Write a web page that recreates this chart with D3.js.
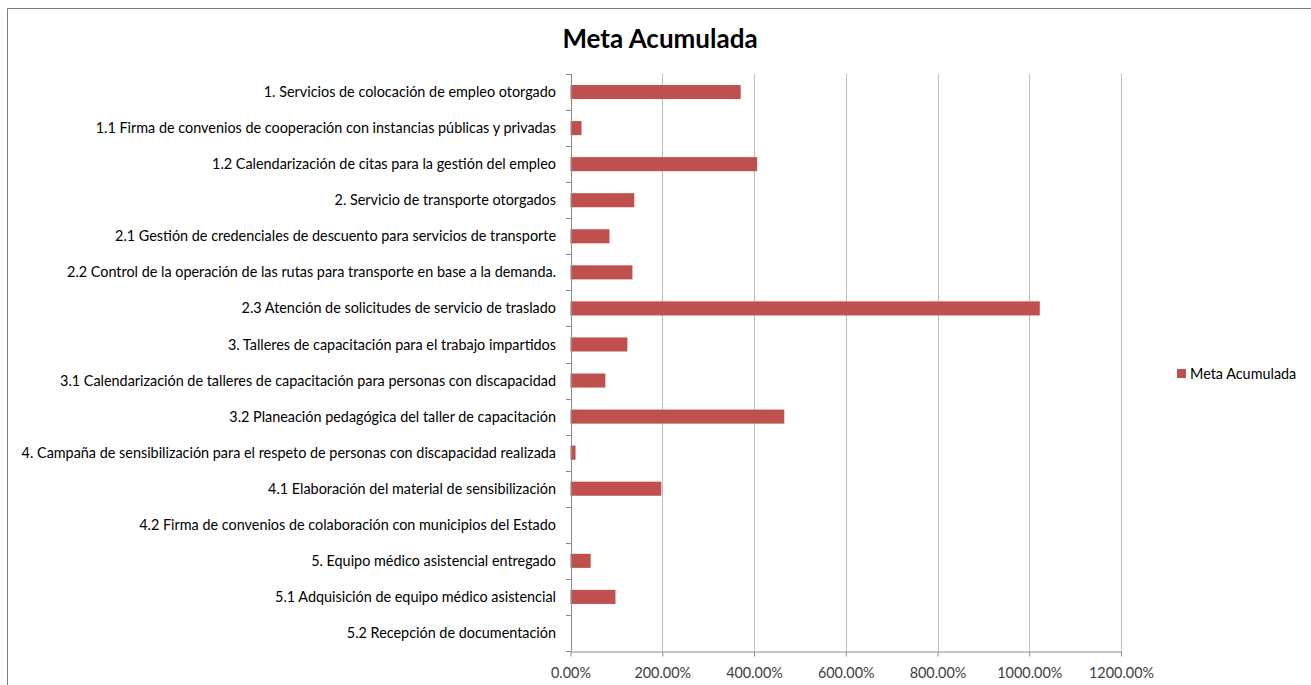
<!DOCTYPE html>
<html><head><meta charset="utf-8">
<script src="https://cdn.jsdelivr.net/npm/d3@7"></script>
<style>body{margin:0;background:#fff;} svg{display:block;}</style>
</head><body>
<svg id="c" width="1311" height="685"></svg>
<script>
const categories = [
"1. Servicios de colocación de empleo otorgado",
"1.1 Firma de convenios de cooperación con instancias públicas y privadas",
"1.2 Calendarización de citas para la gestión del empleo",
"2. Servicio de transporte otorgados",
"2.1 Gestión de credenciales de descuento para servicios de transporte",
"2.2 Control de la operación de las rutas para transporte en base a la demanda.",
"2.3 Atención de solicitudes de servicio de traslado",
"3. Talleres de capacitación para el trabajo impartidos",
"3.1 Calendarización de talleres de capacitación para personas con discapacidad",
"3.2 Planeación pedagógica del taller de capacitación",
"4. Campaña de sensibilización para el respeto de personas con discapacidad realizada",
"4.1 Elaboración del material de sensibilización",
"4.2 Firma de convenios de colaboración con municipios del Estado",
"5. Equipo médico asistencial entregado",
"5.1 Adquisición de equipo médico asistencial",
"5.2 Recepción de documentación"
];
const metaAcumulada = [371, 24, 407, 139, 85, 135, 1023, 124, 76, 466, 11, 198, 0, 44, 98, 0];
const xTicks = [0, 200, 400, 600, 800, 1000, 1200];
const seriesName = "Meta Acumulada";
const title = "Meta Acumulada";

const svg = d3.select("#c");
const font = "Lato, 'Open Sans', sans-serif";
const fs = "14.4px";
const m = {left: 570.5, right: 1121, top: 74, bottom: 651};

// outer frame
svg.append("line").attr("x1",7.5).attr("x2",1311).attr("y1",8.5).attr("y2",8.5).attr("stroke","#7f7f7f");
svg.append("line").attr("x1",7.5).attr("x2",7.5).attr("y1",8.5).attr("y2",685).attr("stroke","#7f7f7f");

const x = d3.scaleLinear().domain([0,1200]).range([m.left, m.right]);
const y = d3.scaleBand().domain(categories).range([m.top, m.bottom]).paddingInner(0.61).paddingOuter(0.305);

// gridlines
svg.append("g").selectAll("line").data(xTicks.slice(1)).join("line")
  .attr("x1",d=>Math.round(x(d))+0.5).attr("x2",d=>Math.round(x(d))+0.5)
  .attr("y1",m.top).attr("y2",m.bottom).attr("stroke","#bfbfbf").attr("stroke-width",1);

// bars
svg.append("g").selectAll("rect").data(categories).join("rect")
  .attr("x", x(0)).attr("y", (d)=>y(d))
  .attr("width", (d,i)=>x(metaAcumulada[i])-x(0))
  .attr("height", y.bandwidth())
  .attr("fill","#c0504d");

// x axis
const xa = svg.append("g").attr("transform",`translate(0,${Math.round(m.bottom)+0.5})`)
  .call(d3.axisBottom(x).tickValues(xTicks).tickFormat(d=>d.toFixed(2)+"%").tickSize(5).tickSizeOuter(0));
xa.select(".domain").attr("stroke","#8c8c8c");
xa.selectAll(".tick line").attr("stroke","#8c8c8c");
xa.selectAll("text").attr("font-family",font).attr("font-size",fs).attr("fill","#404040").attr("dy","0.35em").attr("y",21);

// y axis
const edges = d3.range(categories.length+1).map(i=> m.top + i*(m.bottom-m.top)/categories.length);
const ya = svg.append("g");
ya.append("line").attr("x1",Math.round(m.left)+0.5).attr("x2",Math.round(m.left)+0.5).attr("y1",m.top).attr("y2",m.bottom).attr("stroke","#8c8c8c");
ya.selectAll("line.t").data(edges).join("line").attr("class","t")
  .attr("x1",Math.round(m.left)-5).attr("x2",Math.round(m.left)+0.5)
  .attr("y1",d=>Math.round(d)+0.5).attr("y2",d=>Math.round(d)+0.5).attr("stroke","#8c8c8c");
ya.selectAll("text").data(categories).join("text")
  .attr("x", 556).attr("y", d=>y(d)+y.bandwidth()/2).attr("dy","0.35em")
  .attr("text-anchor","end").attr("font-family",font).attr("font-size",fs).attr("fill","#000")
  .text(d=>d);

// title
svg.append("text").attr("x",660).attr("y",48).attr("text-anchor","middle")
  .attr("font-family",font).attr("font-weight","bold").attr("font-size","26px").attr("fill","#000").text(title);

// legend
svg.append("rect").attr("x",1177).attr("y",369).attr("width",9).attr("height",9).attr("fill","#c0504d");
svg.append("text").attr("x",1190).attr("y",374).attr("dy","0.35em").attr("font-family",font).attr("font-size",fs).attr("fill","#000").text(seriesName);
</script>
</body></html>
